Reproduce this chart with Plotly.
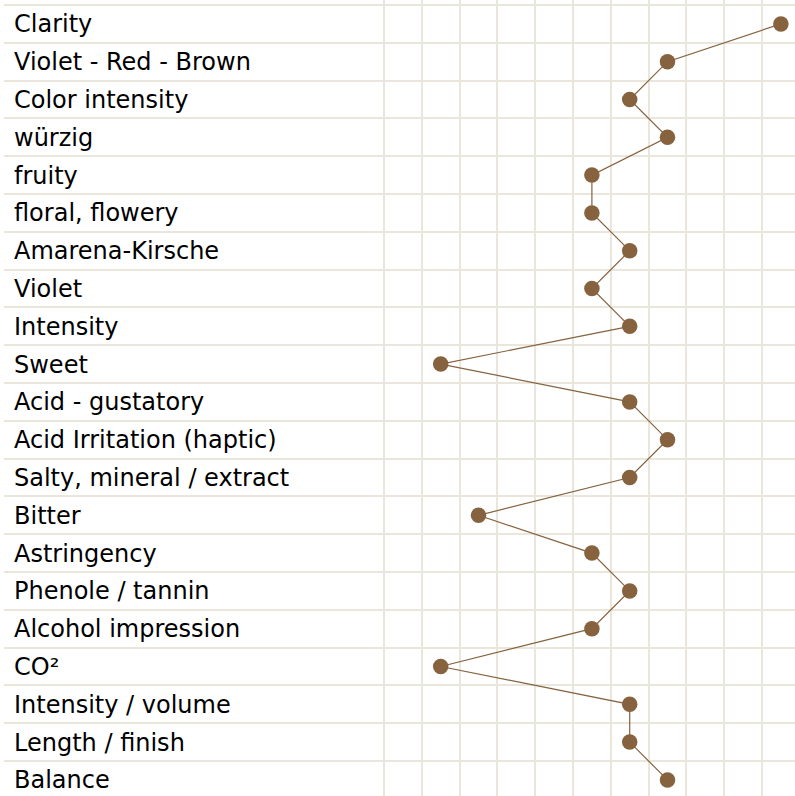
import plotly.graph_objects as go

categories = [
    "Clarity", "Violet - Red - Brown", "Color intensity", "würzig", "fruity",
    "floral, flowery", "Amarena-Kirsche", "Violet", "Intensity", "Sweet",
    "Acid - gustatory", "Acid Irritation (haptic)", "Salty, mineral / extract",
    "Bitter", "Astringency", "Phenole / tannin", "Alcohol impression", "CO²",
    "Intensity / volume", "Length / finish", "Balance",
]
values = [10, 7, 6, 7, 5, 5, 6, 5, 6, 1, 6, 7, 6, 2, 5, 6, 5, 1, 6, 6, 7]

rows = list(range(len(categories)))
CELL = 37.8
W, H = 795, 796
ML = 4
# pixel geometry -> data ranges
x_left = (ML - 384) / CELL - 0.5
x_right = (W - 384) / CELL - 0.5
y_top = (0 - 5) / CELL - 0.5
y_bottom = (H - 5) / CELL - 0.5
label_x = (14 - 384) / CELL - 0.5
label_dy = 2.5 / CELL
border_x = (5 - 384) / CELL - 0.5

grid_color = "#ebe6dc"
brown = "#86623e"

fig = go.Figure()
fig.add_trace(go.Scatter(
    x=[label_x] * len(categories), y=[r + label_dy for r in rows],
    text=categories, mode="text",
    textposition="middle right",
    textfont=dict(family="DejaVu Sans", size=24, color="#000000"),
    hoverinfo="skip",
))
fig.add_trace(go.Scatter(
    x=values, y=rows, mode="lines+markers",
    line=dict(color=brown, width=1.2),
    marker=dict(color=brown, size=15.5),
    hoverinfo="skip",
))

fig.update_layout(
    width=W, height=H,
    margin=dict(l=ML, r=0, t=0, b=0, pad=0),
    plot_bgcolor="white", paper_bgcolor="white",
    showlegend=False,
    xaxis=dict(
        range=[x_left, x_right],
        tickmode="array",
        tickvals=[border_x] + [b - 0.5 for b in range(0, 12)],
        showticklabels=False, ticks="",
        showgrid=True, gridcolor=grid_color, gridwidth=2,
        zeroline=False, showline=False, fixedrange=True,
    ),
    yaxis=dict(
        range=[y_bottom, y_top],
        tickmode="array",
        tickvals=[b - 0.5 for b in range(0, 22)],
        showticklabels=False, ticks="",
        showgrid=True, gridcolor=grid_color, gridwidth=2,
        zeroline=False, showline=False, fixedrange=True,
    ),
)

fig.write_html(
    "out.html",
    config={"displayModeBar": False},
    post_script="document.body.style.margin='0';document.body.style.overflow='hidden';",
)
